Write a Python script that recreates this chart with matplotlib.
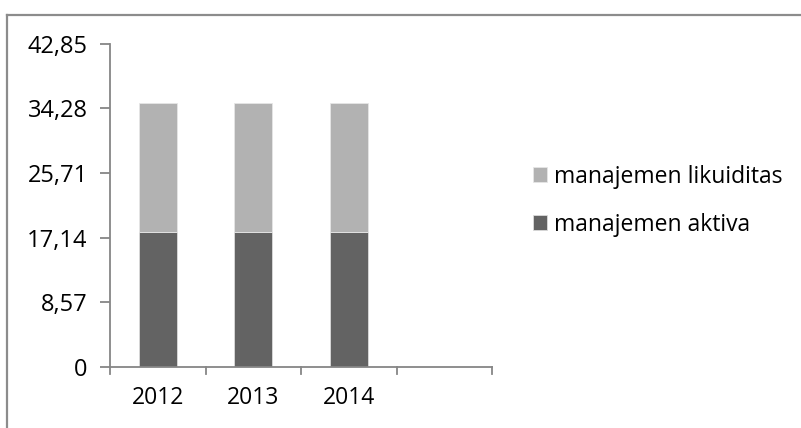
import matplotlib.pyplot as plt
from matplotlib.lines import Line2D
import numpy as np

tahun = ['2012', '2013', '2014', '']
aktiva = [17.84, 17.84, 17.84, 0]
likuiditas = [17.10, 17.10, 17.10, 0]
yticks = [0, 8.57, 17.14, 25.71, 34.28, 42.85]
ylabels = ['0', '8,57', '17,14', '25,71', '34,28', '42,85']

plt.rcParams['font.family'] = ['Open Sans', 'DejaVu Sans']
axis_col = '#868686'

fig = plt.figure(figsize=(8.01, 4.28), dpi=100)
ax = fig.add_axes([110/801, 1-367/428, (492-110)/801, (367-43.7)/428])

x = np.arange(len(tahun))
ax.bar(x[:3], aktiva[:3], width=0.4, color='#636363', edgecolor='#dcdcdc', linewidth=0.6,
       label='manajemen aktiva')
ax.bar(x[:3], likuiditas[:3], width=0.4, bottom=aktiva[:3], color='#b2b2b2',
       edgecolor='#e6e6e6', linewidth=0.6, label='manajemen likuiditas')

ax.set_xlim(-0.5, 3.5)
ax.set_ylim(0, 42.85)
ax.set_yticks(yticks)
ax.set_yticklabels(ylabels, fontsize=17)
ax.set_xticks([0, 1, 2])
ax.set_xticklabels(tahun[:3], fontsize=16.5)
ax.tick_params(axis='x', length=0, pad=14)
ax.tick_params(axis='y', length=7, width=1.3, color=axis_col, pad=9)
# category separator ticks
for b in [-0.5, 0.5, 1.5, 2.5, 3.5]:
    ax.plot([b, b], [0, -0.9], color=axis_col, lw=1.3, clip_on=False)

for s in ['top', 'right']:
    ax.spines[s].set_visible(False)
for s in ['left', 'bottom']:
    ax.spines[s].set_color(axis_col)
    ax.spines[s].set_linewidth(1.3)

h, l = ax.get_legend_handles_labels()
fig.legend(h[::-1], l[::-1], loc='center left', bbox_to_anchor=(512/801, 1-201/428),
           frameon=False, fontsize=16.5, handlelength=0.63, handleheight=0.63,
           handletextpad=0.3, labelspacing=1.05)

# outer chart frame (top and left only)
fig.add_artist(Line2D([7/801, 1], [1-14.5/428, 1-14.5/428], color='#8c8c8c', lw=1.6,
                      transform=fig.transFigure))
fig.add_artist(Line2D([7/801, 7/801], [0, 1-14.5/428], color='#8c8c8c', lw=1.6,
                      transform=fig.transFigure))

fig.savefig('out.png', dpi=100)
